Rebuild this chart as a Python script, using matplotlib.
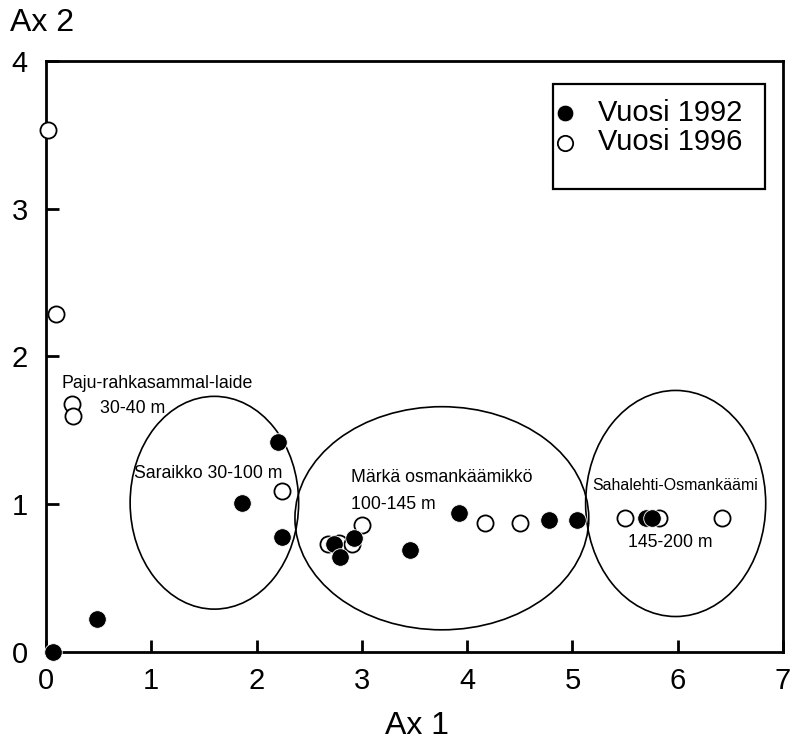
import matplotlib.pyplot as plt
from matplotlib.patches import Ellipse, Rectangle

plt.rcParams['font.family'] = ['Liberation Sans', 'DejaVu Sans']

# Vuosi 1992 (filled)
x_1992 = [0.07, 0.49, 1.86, 2.20, 2.24, 2.74, 2.79, 2.93, 3.46, 3.92, 4.78, 5.04, 5.70, 5.76]
y_1992 = [0.00, 0.22, 1.01, 1.42, 0.78, 0.73, 0.64, 0.77, 0.69, 0.94, 0.89, 0.89, 0.91, 0.91]
# Vuosi 1996 (open)
x_1996 = [0.02, 0.10, 0.25, 0.26, 2.24, 2.68, 2.78, 2.91, 3.00, 4.17, 4.50, 5.50, 5.82, 6.42]
y_1996 = [3.53, 2.29, 1.68, 1.60, 1.09, 0.73, 0.74, 0.73, 0.86, 0.87, 0.87, 0.91, 0.91, 0.91]

# groups drawn as ellipses: centre x, centre y, width, height
groups = [(1.60, 1.01, 1.60, 1.44),
          (3.76, 0.905, 2.79, 1.51),
          (5.98, 1.005, 1.71, 1.53)]

# text labels: text, x, y, size
labels = [('Paju-rahkasammal-laide', 0.15, 1.82, 12.8),
          ('30-40 m', 0.51, 1.65, 12.8),
          ('Saraikko 30-100 m', 0.84, 1.21, 12.7),
          ('Märkä osmankäämikkö', 2.90, 1.18, 12.7),
          ('100-145 m', 2.90, 1.00, 12.7),
          ('Sahalehti-Osmankäämi', 5.19, 1.13, 11.4),
          ('145-200 m', 5.53, 0.74, 12.7)]

fig = plt.figure(figsize=(7.91, 7.43), dpi=100)
ax = fig.add_axes([0.058, 0.1225, 0.932, 0.7955])

for cx, cy, w, h in groups:
    ax.add_patch(Ellipse((cx, cy), w, h, fill=False, edgecolor='black', linewidth=1.2))

ax.scatter(x_1996, y_1996, s=135, facecolor='white', edgecolor='black', linewidth=1.3,
           label='Vuosi 1996', zorder=3, clip_on=False)
ax.scatter(x_1992, y_1992, s=160, facecolor='black', edgecolor='white', linewidth=0.6,
           label='Vuosi 1992', zorder=4, clip_on=False)

for txt, tx, ty, fs in labels:
    ax.text(tx, ty, txt, fontsize=fs, ha='left', va='center')

ax.set_xlim(0, 7)
ax.set_ylim(0, 4)
ax.set_xticks(range(0, 8))
ax.set_yticks(range(0, 5))
ax.tick_params(direction='in', length=9, width=2, labelsize=21)
ax.tick_params(axis='x', pad=11)
ax.tick_params(axis='y', pad=13)
for sp in ax.spines.values():
    sp.set_linewidth(2)

# legend with its own box
h, l = ax.get_legend_handles_labels()
ax.legend(h[::-1], l[::-1], loc='upper left', bbox_to_anchor=(0.688, 0.941), frameon=False,
          fontsize=21, handletextpad=0.85, borderpad=0.1, labelspacing=0.05,
          handlelength=0.6, borderaxespad=0, markerscale=0.95)
ax.add_patch(Rectangle((0.688, 0.783), 0.288, 0.178, transform=ax.transAxes, fill=False,
                       edgecolor='black', linewidth=1.6, zorder=5))

fig.text(10 / 791, 1 - 23 / 743, 'Ax 2', fontsize=23, ha='left', va='center')
fig.text(417 / 791, 1 - 726 / 743, 'Ax 1', fontsize=23, ha='center', va='center')

fig.savefig('out.png', dpi=100)
